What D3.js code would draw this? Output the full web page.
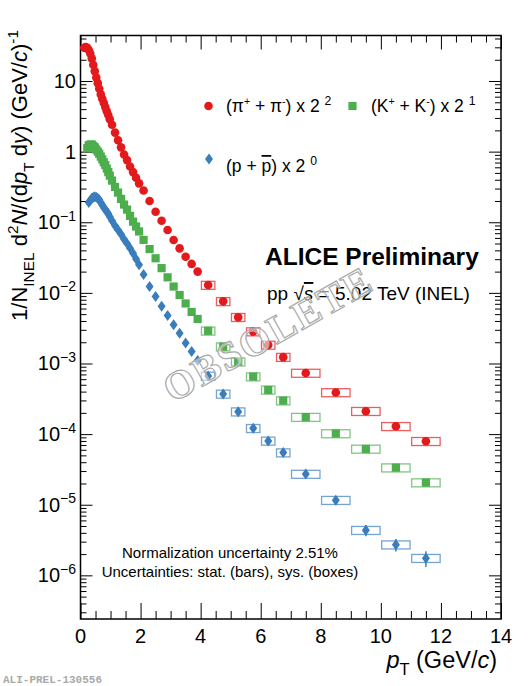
<!DOCTYPE html>
<html>
<head>
<meta charset="utf-8">
<script src="https://cdn.jsdelivr.net/npm/d3@7"></script>
<style>
  body { margin: 0; background: #fff; }
  svg { display: block; font-family: "Liberation Sans", Arial, sans-serif; }
  .axis .domain { display: none; }
  .axis .tick line { stroke: #000; stroke-width: 1; }
</style>
</head>
<body>
<div id="chart"></div>
<script>
// pT bin centres (GeV/c)
const ptPion = [0.125, 0.175, 0.225, 0.275, 0.325, 0.375, 0.425, 0.475, 0.525, 0.575, 0.625, 0.675, 0.725, 0.775, 0.825, 0.875, 0.925, 0.975,
  1.05, 1.15, 1.25, 1.35, 1.45, 1.55, 1.65, 1.75, 1.85, 1.95,
  2.1, 2.3, 2.5, 2.7, 2.9, 3.1, 3.3, 3.5, 3.7, 3.9,
  4.25, 4.75, 5.25, 5.75, 6.25, 6.75, 7.5, 8.5, 9.5, 10.5, 11.5];
const ptKaon = ptPion.slice(2);
const ptProton = ptPion.slice(3);

// spectra, already multiplied by 2^2, 2^1, 2^0
const pion = [29.5, 30.2, 29.5, 27.5, 24.5, 20.9, 17.0, 13.8, 11.2, 9.33, 7.76, 6.46, 5.62, 4.90, 4.27, 3.72, 3.31, 2.88,
  2.40, 1.86, 1.45, 1.15, 0.912, 0.759, 0.617, 0.513, 0.427, 0.355,
  0.282, 0.200, 0.141, 0.105, 0.0776, 0.0562, 0.0427, 0.0324, 0.0257, 0.0200,
  0.0129, 0.00759, 0.00452, 0.00283, 0.00183, 0.00123, 7.33e-4, 3.89e-4, 2.11e-4, 1.29e-4, 7.92e-5];
const kaon = [1.12, 1.23, 1.26, 1.26, 1.20, 1.15, 1.07, 1.00, 0.933, 0.851, 0.776, 0.708, 0.646, 0.575, 0.513, 0.457,
  0.389, 0.316, 0.263, 0.214, 0.178, 0.151, 0.123, 0.102, 0.0871, 0.0741,
  0.0562, 0.0417, 0.0309, 0.0224, 0.0166, 0.0123, 0.00933, 0.00708, 0.00537, 0.00427,
  0.00290, 0.00173, 0.00106, 6.52e-4, 4.23e-4, 2.98e-4, 1.74e-4, 1.02e-4, 6.17e-5, 3.35e-5, 2.06e-5];
const proton = [0.191, 0.204, 0.219, 0.226, 0.229, 0.226, 0.219, 0.209, 0.191, 0.176, 0.162, 0.151, 0.141, 0.132, 0.120,
  0.105, 0.0891, 0.0776, 0.0676, 0.0575, 0.0501, 0.0427, 0.0363, 0.0302, 0.0251,
  0.0182, 0.0123, 0.00891, 0.00646, 0.00479, 0.00355, 0.00269, 0.00195, 0.00148, 0.00110,
  6.67e-4, 3.71e-4, 2.08e-4, 1.21e-4, 8.02e-5, 5.47e-5, 2.72e-5, 1.16e-5, 4.36e-6, 2.72e-6, 1.75e-6];

// high-pT bins where the sys. boxes are visible
const highEdges = [4, 4.5, 5, 5.5, 6, 6.5, 7, 8, 9, 10, 11, 12];
const sysPion = [0.13, 0.13, 0.13, 0.13, 0.13, 0.13, 0.13, 0.13, 0.13, 0.13, 0.13];
const sysKaon = [0.13, 0.13, 0.13, 0.13, 0.13, 0.13, 0.13, 0.13, 0.13, 0.13, 0.13];
const sysProton = [0.13, 0.13, 0.13, 0.13, 0.13, 0.13, 0.13, 0.13, 0.13, 0.13, 0.13];
const statProton = [0.02, 0.03, 0.03, 0.04, 0.05, 0.05, 0.06, 0.12, 0.18, 0.2, 0.25];

const xTicks = [0, 2, 4, 6, 8, 10, 12, 14];
const yDecades = [-6, -5, -4, -3, -2, -1, 0, 1];

const W = 529, H = 686;
const frame = { left: 80.5, right: 501, top: 35.5, bottom: 619 };

const svg = d3.select("#chart").append("svg").attr("width", W).attr("height", H);

const x = d3.scaleLinear().domain([0, 14]).range([frame.left, frame.right]);
const y = d3.scaleLog().domain([2.41e-7, 44.1]).range([frame.bottom, frame.top]);

const RED = "#e3191c", GREEN = "#4cae4c", BLUE = "#3a7dbd";

// rich text: parts = [{t, sup, sub, it}]
function rich(sel, parts, size) {
  let shift = 0;
  parts.forEach(p => {
    const target = p.sup ? -0.42 * size : p.sub ? 0.3 * size : 0;
    const ts = sel.append("tspan").text(p.t)
      .attr("font-size", (p.sup || p.sub) ? size * (p.ss || 0.7) : size);
    if (target !== shift) ts.attr("dy", target - shift);
    if (p.it) ts.attr("font-style", "italic");
    if (p.bar) ts.style("text-decoration", "overline");
    shift = target;
  });
}

// ticks: major + minor, all four sides, pointing inward
const xMinor = d3.range(0, 14.01, 0.5).filter(v => v % 2 !== 0);
const yMinor = [];
for (let e = -7; e <= 1; e++) for (let m = 2; m <= 9; m++) {
  const v = m * Math.pow(10, e);
  if (v > 2.41e-7 && v < 44.1) yMinor.push(v);
}
const yMajor = yDecades.map(e => Math.pow(10, e));

function addAxis(axis, tx, ty) {
  svg.append("g").attr("class", "axis").attr("transform", `translate(${tx},${ty})`).call(axis);
}
addAxis(d3.axisTop(x).tickValues(xTicks).tickSize(16).tickFormat(""), 0, frame.bottom);
addAxis(d3.axisTop(x).tickValues(xMinor).tickSize(8).tickFormat(""), 0, frame.bottom);
addAxis(d3.axisBottom(x).tickValues(xTicks).tickSize(14).tickFormat(""), 0, frame.top);
addAxis(d3.axisBottom(x).tickValues(xMinor).tickSize(7).tickFormat(""), 0, frame.top);
addAxis(d3.axisRight(y).tickValues(yMajor).tickSize(12).tickFormat(""), frame.left, 0);
addAxis(d3.axisRight(y).tickValues(yMinor).tickSize(6).tickFormat(""), frame.left, 0);
addAxis(d3.axisLeft(y).tickValues(yMajor).tickSize(12).tickFormat(""), frame.right, 0);
addAxis(d3.axisLeft(y).tickValues(yMinor).tickSize(6).tickFormat(""), frame.right, 0);

svg.append("rect")
  .attr("x", frame.left).attr("y", frame.top)
  .attr("width", frame.right - frame.left).attr("height", frame.bottom - frame.top)
  .attr("fill", "none").attr("stroke", "#000").attr("stroke-width", 1.5);

// tick labels
svg.append("g").selectAll("text").data(xTicks).join("text")
  .attr("x", d => x(d)).attr("y", 643)
  .attr("text-anchor", "middle").attr("font-size", 20)
  .text(d => d);

yDecades.forEach(e => {
  const t = svg.append("text")
    .attr("x", 76).attr("y", y(Math.pow(10, e)) + 7)
    .attr("text-anchor", "end").attr("font-size", 20);
  if (e === 1) t.text("10");
  else if (e === 0) t.text("1");
  else rich(t, [{ t: "10" }, { t: "\u2212" + (-e), sup: true }], 20);
});

// axis titles
const xt = svg.append("text").attr("x", 497).attr("y", 668)
  .attr("text-anchor", "end").attr("font-size", 23.5);
rich(xt, [{ t: "p", it: true }, { t: "T", sub: true }, { t: " (GeV/" }, { t: "c", it: true }, { t: ")" }], 23.5);

const yt = svg.append("text").attr("transform", "translate(27,30) rotate(-90)")
  .attr("text-anchor", "end").attr("font-size", 22);
rich(yt, [{ t: "1/N" }, { t: "INEL", sub: true }, { t: " d" }, { t: "2", sup: true }, { t: "N", it: true },
  { t: "/(d" }, { t: "p", it: true }, { t: "T", sub: true }, { t: " d" }, { t: "y", it: true },
  { t: ") (GeV/" }, { t: "c", it: true }, { t: ")" }, { t: "-1", sup: true }], 22);

// series
const series = [
  { pt: ptPion, v: pion, sys: sysPion, stat: null, color: RED, shape: "circle" },
  { pt: ptKaon, v: kaon, sys: sysKaon, stat: null, color: GREEN, shape: "square" },
  { pt: ptProton, v: proton, sys: sysProton, stat: statProton, color: BLUE, shape: "diamond" }
];

const plot = svg.append("g");

series.forEach(s => {
  const off = s.v.length - sysPion.length;
  // sys boxes
  plot.append("g").selectAll("rect").data(s.sys).join("rect")
    .attr("x", (d, i) => x(highEdges[i]) + 0.8)
    .attr("width", (d, i) => x(highEdges[i + 1]) - x(highEdges[i]) - 1.6)
    .attr("y", (d, i) => y(s.v[off + i] * (1 + d)))
    .attr("height", (d, i) => y(s.v[off + i] * (1 - d)) - y(s.v[off + i] * (1 + d)))
    .attr("fill", "none").attr("stroke", s.color).attr("stroke-opacity", 0.7).attr("stroke-width", 1.3);
  // stat bars
  if (s.stat) {
    plot.append("g").selectAll("line").data(s.stat).join("line")
      .attr("x1", (d, i) => x(s.pt[off + i])).attr("x2", (d, i) => x(s.pt[off + i]))
      .attr("y1", (d, i) => y(s.v[off + i] * (1 + d)))
      .attr("y2", (d, i) => y(s.v[off + i] * (1 - d)))
      .attr("stroke", s.color).attr("stroke-width", 1.5);
  }
});

function marker(g, shape, color, cx, cy) {
  if (shape === "circle") {
    g.append("circle").attr("cx", cx).attr("cy", cy).attr("r", 4.3).attr("fill", color);
  } else if (shape === "square") {
    g.append("rect").attr("x", cx - 4.1).attr("y", cy - 4.1).attr("width", 8.2).attr("height", 8.2).attr("fill", color);
  } else {
    g.append("path").attr("d", `M${cx},${cy - 5.5}L${cx + 4},${cy}L${cx},${cy + 5.5}L${cx - 4},${cy}Z`).attr("fill", color);
  }
}

series.forEach(s => {
  const g = plot.append("g");
  s.v.forEach((v, i) => marker(g, s.shape, s.color, x(s.pt[i]), y(v)));
});

// legend
const lg = svg.append("g");
marker(lg, "circle", RED, 208.5, 106);
rich(lg.append("text").attr("x", 226).attr("y", 112).attr("font-size", 17.5),
  [{ t: "(\u03c0" }, { t: "+", sup: true, ss: 0.6 }, { t: " + \u03c0" }, { t: "-", sup: true, ss: 0.6 }, { t: ") x 2 " }, { t: "2", sup: true }], 17.5);
marker(lg, "square", GREEN, 352.5, 106);
rich(lg.append("text").attr("x", 371).attr("y", 112).attr("font-size", 17.5),
  [{ t: "(K" }, { t: "+", sup: true, ss: 0.6 }, { t: " + K" }, { t: "-", sup: true, ss: 0.6 }, { t: ") x 2 " }, { t: "1", sup: true }], 17.5);
marker(lg, "diamond", BLUE, 209, 159);
rich(lg.append("text").attr("x", 226).attr("y", 172).attr("font-size", 17.5),
  [{ t: "(p + " }, { t: "p", bar: true }, { t: ") x 2 " }, { t: "0", sup: true }], 17.5);

// labels
svg.append("text").attr("x", 265).attr("y", 265).attr("font-size", 24.5).attr("font-weight", "bold")
  .text("ALICE Preliminary");
rich(svg.append("text").attr("x", 267).attr("y", 300).attr("font-size", 19),
  [{ t: "pp \u221a" }, { t: "s", it: true, bar: true }, { t: " = 5.02 TeV (INEL)" }], 19);

svg.append("text").attr("x", 230).attr("y", 558).attr("text-anchor", "middle").attr("font-size", 15)
  .text("Normalization uncertainty 2.51%");
svg.append("text").attr("x", 230).attr("y", 577).attr("text-anchor", "middle").attr("font-size", 15)
  .text("Uncertainties: stat. (bars), sys. (boxes)");

// watermark
svg.append("text")
  .attr("transform", "translate(268,334) rotate(-29.4)")
  .attr("text-anchor", "middle").attr("dominant-baseline", "central")
  .attr("font-family", "'Liberation Serif', serif").attr("font-weight", "bold").attr("font-size", 40)
  .attr("letter-spacing", 2)
  .attr("fill", "#fff").attr("fill-opacity", 0.55)
  .attr("stroke", "#aaa").attr("stroke-width", 1.2)
  .text("OBSOLETE");

svg.append("text").attr("x", 3).attr("y", 683)
  .attr("font-family", "'Liberation Mono', monospace").attr("font-weight", "bold").attr("font-size", 11)
  .attr("fill", "#aaa").text("ALI-PREL-130556");
</script>
</body>
</html>
